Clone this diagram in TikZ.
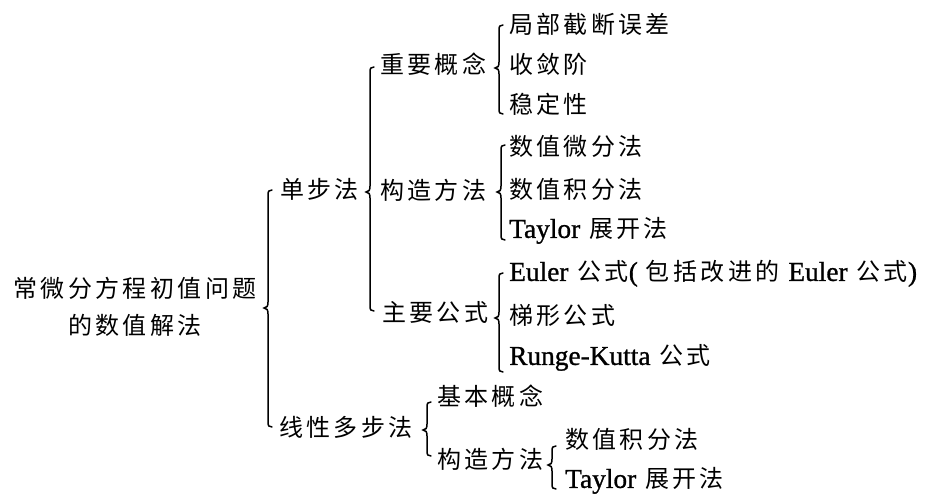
\documentclass[tikz,border=0pt]{standalone}
\usepackage{fontspec}
\newfontfamily\cjk[LetterSpace=14]{Noto Sans CJK SC}
\newfontfamily\lat[Scale=1.14,FakeBold=1]{Liberation Serif}
\newcommand{\gap}{\hspace{9pt}}
\newcommand{\cbrace}[4]{%
  \draw[bracestyle] ({#1+4},#2) .. controls ({#1+1},#2) and (#1,{#2+1}) .. (#1,{#2+5})
    -- (#1,{#3-6}) .. controls (#1,{#3-2}) and ({#1-1},#3) .. ({#1-4},#3)
    .. controls ({#1-1},#3) and (#1,{#3+2}) .. (#1,{#3+6})
    -- (#1,{#4-5}) .. controls (#1,{#4-1}) and ({#1+1},#4) .. ({#1+4},#4);}
\tikzset{
  bracestyle/.style={line width=1.5pt, black, line cap=round},
  lbl/.style={anchor=west, inner sep=0pt, text height=20.9pt, text depth=3.1pt,
              font=\fontsize{24}{37}\selectfont\lat},
  cj/.style={lbl, font=\fontsize{24}{37}\selectfont\cjk},
}
\begin{document}
\begin{tikzpicture}[x=1pt,y=-1pt]
\useasboundingbox (0,0) rectangle (933,493);
% root
\node[inner sep=0pt, align=center, font=\fontsize{24}{37}\selectfont\cjk] (root) at (135,307)
  {常微分方程初值问题\\的数值解法};
\cbrace{268}{190}{308}{427}
% level 1
\node[cj] (dbf) at (280,190) {单步法};
\node[cj] (xxdbf) at (279,428) {线性多步法};
\cbrace{370}{67}{192}{311}
\cbrace{427}{402}{430}{456}
% level 2 under 单步法
\node[cj] (zygn) at (380,65) {重要概念};
\node[cj] (gzff) at (380,191) {构造方法};
\node[cj] (zygs) at (382,313) {主要公式};
\cbrace{499}{25}{68}{114}
\cbrace{501}{145}{192}{240}
\cbrace{499}{273}{318}{372}
% leaves
\node[cj] (jbjd) at (509,25) {局部截断误差};
\node[cj] (slj) at (509,65) {收敛阶};
\node[cj] (wdx) at (509,105) {稳定性};
\node[cj] (szwf) at (509,147) {数值微分法};
\node[cj] (szjf) at (509,190) {数值积分法};
\node[lbl] (tay1) at (509,229) {Taylor\gap{\cjk 展开法}};
\node[lbl] (euler) at (509,272) {Euler\gap{\cjk 公式}(\hspace{8pt}{\cjk 包括改进的}\gap Euler\gap{\cjk 公式})};
\node[cj] (txgs) at (509,316) {梯形公式};
\node[lbl] (rk) at (509,356) {Runge-Kutta\gap{\cjk 公式}};
% under 线性多步法
\node[cj] (jbgn) at (437,397) {基本概念};
\node[cj] (gzff2) at (437,460) {构造方法};
\cbrace{552}{446}{465}{489}
\node[cj] (szjf2) at (565,440) {数值积分法};
\node[lbl] (tay2) at (565,479) {Taylor\gap{\cjk 展开法}};
\end{tikzpicture}
\end{document}
